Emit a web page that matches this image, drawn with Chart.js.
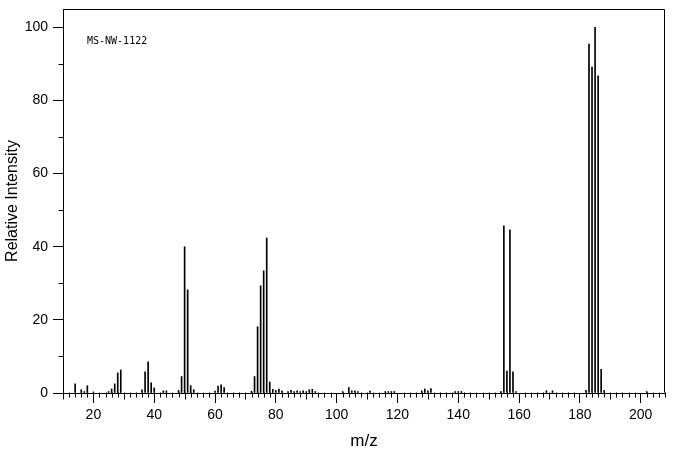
<!DOCTYPE html>
<html>
<head>
<meta charset="utf-8">
<script src="https://cdn.jsdelivr.net/npm/chart.js@4"></script>
<style>
  html, body { margin: 0; padding: 0; background: #fff; }
  canvas { display: block; }
</style>
</head>
<body>
<canvas id="msChart" width="676" height="455"></canvas>
<script>
// peaks (m/z and relative intensity)
const mz = [14, 16, 17, 18, 20, 25, 26, 27, 28, 29,
            36, 37, 38, 39, 40, 43, 44, 48, 49, 50,
            51, 52, 53, 60, 61, 62, 63, 72, 73, 74,
            75, 76, 77, 78, 79, 80, 81, 82, 84, 85,
            86, 87, 88, 89, 90, 91, 92, 93, 102, 104,
            105, 106, 107, 111, 116, 117, 118, 119, 128, 129,
            130, 131, 139, 140, 141, 154, 155, 156, 157, 158,
            159, 169, 171, 182, 183, 184, 185, 186, 187, 188,
            202];
const intensity = [2.5, 0.9, 0.4, 2.0, 0.3, 0.4, 1.1, 2.5, 5.5, 6.3,
                   0.9, 5.8, 8.5, 2.8, 1.4, 0.6, 0.6, 0.7, 4.5, 40.0,
                   28.2, 2.0, 0.9, 0.5, 1.9, 2.2, 1.5, 0.5, 4.5, 18.1,
                   29.3, 33.4, 42.4, 3.0, 1.0, 0.7, 1.1, 0.6, 0.4, 0.7,
                   0.4, 0.6, 0.4, 0.6, 0.4, 0.9, 1.0, 0.4, 0.4, 1.5,
                   0.6, 0.6, 0.4, 0.5, 0.4, 0.4, 0.4, 0.4, 0.6, 1.1,
                   0.6, 1.2, 0.4, 0.4, 0.4, 0.4, 45.7, 6.0, 44.6, 5.8,
                   0.4, 0.6, 0.6, 0.7, 95.4, 89.1, 100, 86.7, 6.5, 0.7,
                   0.4];
const xTicks = [20, 40, 60, 80, 100, 120, 140, 160, 180, 200];
const yTicks = [0, 20, 40, 60, 80, 100];
const yMinor = [10, 30, 50, 70, 90];
const sampleId = 'MS-NW-1122';

const fontFamily = '"Liberation Sans", Arial, sans-serif';

// top/right frame, the small tick marks and the sample id
const frame = {
    id: 'frame',
    afterDraw(chart) {
        const ctx = chart.ctx;
        const a = chart.chartArea;
        const x = chart.scales.x;
        const y = chart.scales.y;
        const L = Math.round(a.left) + 0.5, R = Math.round(a.right) - 0.5;
        const T = Math.round(a.top) + 0.5, B = Math.round(a.bottom) - 0.5;
        ctx.save();
        ctx.strokeStyle = '#000';
        ctx.lineWidth = 1;
        ctx.beginPath();
        ctx.moveTo(L, T); ctx.lineTo(R, T); ctx.lineTo(R, B);
        // x minor ticks every 2, medium every 10
        for (let v = x.min; v <= x.max; v += 2) {
            if (v % 20 === 0) continue;
            const px = Math.round(x.getPixelForValue(v)) + 0.5;
            const len = v % 10 === 0 ? 7 : 5;
            ctx.moveTo(px, B); ctx.lineTo(px, B + len);
        }
        yMinor.forEach(v => {
            const py = Math.round(y.getPixelForValue(v)) + 0.5;
            ctx.moveTo(L - 5, py); ctx.lineTo(L, py);
        });
        ctx.stroke();
        ctx.fillStyle = '#000';
        ctx.font = '10px "DejaVu Sans Mono", monospace';
        ctx.textBaseline = 'middle';
        ctx.fillText(sampleId, a.left + 24, a.top + 32);
        ctx.restore();
    }
};

var ctx = document.getElementById('msChart').getContext('2d');
var chart = new Chart(ctx, {
    type: 'bar',
    data: {
        datasets: [{
            data: mz.map((m, i) => ({ x: m, y: intensity[i] })),
            backgroundColor: '#000',
            borderWidth: 0,
            barThickness: 1
        }]
    },
    options: {
        responsive: false,
        animation: false,
        layout: { padding: { top: 9, right: 11, left: 0, bottom: 0 } },
        plugins: { legend: { display: false }, tooltip: { enabled: false } },
        scales: {
            x: {
                type: 'linear',
                min: 10,
                max: 208,
                offset: false,
                afterBuildTicks: s => { s.ticks = xTicks.map(v => ({ value: v })); },
                afterFit: s => { s.height = 62; s.paddingLeft = 0; s.paddingRight = 0; },
                grid: { drawOnChartArea: false, offset: false, tickLength: 10, color: '#000' },
                border: { color: '#000' },
                ticks: { color: '#000', font: { size: 14, family: fontFamily }, padding: 4, maxRotation: 0, autoSkip: false },
                title: { display: true, text: 'm/z', color: '#000', font: { size: 17, family: fontFamily }, padding: { top: 0, bottom: 3 } }
            },
            y: {
                min: 0,
                max: 105,
                afterBuildTicks: s => { s.ticks = yTicks.map(v => ({ value: v })); },
                afterFit: s => { s.width = 63; s.paddingTop = 0; s.paddingBottom = 0; },
                grid: { drawOnChartArea: false, tickLength: 10, color: '#000' },
                border: { color: '#000' },
                ticks: { color: '#000', font: { size: 14, family: fontFamily }, padding: 5 },
                title: { display: true, text: 'Relative Intensity', color: '#000', font: { size: 16, family: fontFamily }, padding: { top: 3, bottom: 0 } }
            }
        }
    },
    plugins: [frame]
});
</script>
</body>
</html>
